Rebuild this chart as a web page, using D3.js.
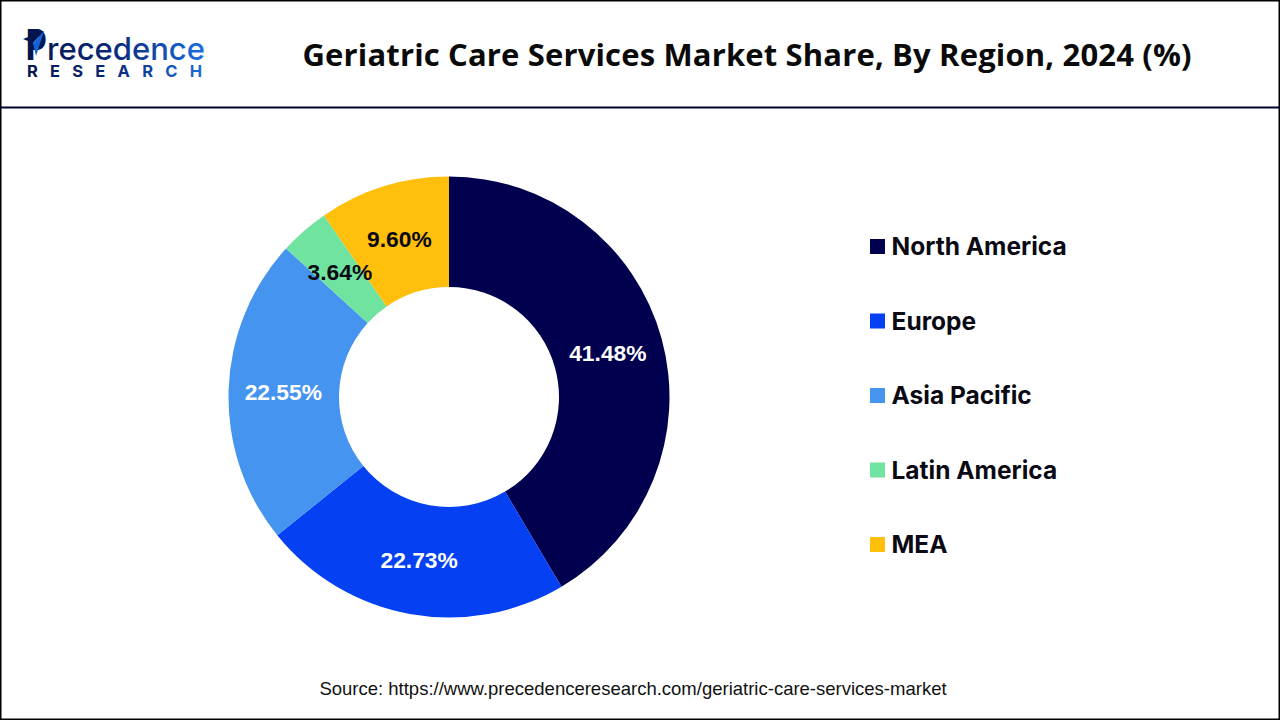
<!DOCTYPE html>
<html>
<head>
<meta charset="utf-8">
<script src="https://cdn.jsdelivr.net/npm/d3@7"></script>
<style>
  html, body { margin: 0; padding: 0; background: #fff; }
</style>
</head>
<body>
<div id="chart"></div>
<script>
const regions = ["North America", "Europe", "Asia Pacific", "Latin America", "MEA"];
const shares = [41.48, 22.73, 22.55, 3.64, 9.60];
const colors = ["#00004f", "#0540f2", "#4594f0", "#6fe39f", "#ffbf0b"];
const labelColors = ["#fff", "#fff", "#fff", "#0a0a14", "#0a0a14"];

const width = 1280, height = 720;
const svg = d3.select("#chart").append("svg")
    .attr("width", width)
    .attr("height", height)
    .style("display", "block");

// frame and header rule
svg.append("rect")
    .attr("x", 0.5).attr("y", 0.5)
    .attr("width", width - 1).attr("height", height - 1)
    .attr("fill", "#fff")
    .attr("stroke", "#000")
    .attr("stroke-width", 2);
svg.append("line")
    .attr("x1", 0).attr("x2", width)
    .attr("y1", 107.5).attr("y2", 107.5)
    .attr("stroke", "#00002e")
    .attr("stroke-width", 2);

// logo
const grad = svg.append("defs").append("linearGradient")
    .attr("id", "logoGrad")
    .attr("gradientUnits", "userSpaceOnUse")
    .attr("x1", 25).attr("x2", 205).attr("y1", 0).attr("y2", 0);
grad.append("stop").attr("offset", "0%").attr("stop-color", "#03154f");
grad.append("stop").attr("offset", "50%").attr("stop-color", "#0a2a7a");
grad.append("stop").attr("offset", "100%").attr("stop-color", "#1a6fe0");

// the big P is squeezed so it stops where "recedence" starts
svg.append("text")
    .attr("transform", "translate(26,60) scale(0.75,1)")
    .attr("font-family", "Inter")
    .attr("font-size", 42)
    .attr("font-weight", 800)
    .attr("fill", "#03154f")
    .text("P");
svg.append("text")
    .attr("x", 47).attr("y", 59.5)
    .attr("font-family", "Inter")
    .attr("font-size", 31)
    .attr("font-weight", 500)
    .attr("textLength", 158)
    .attr("lengthAdjust", "spacingAndGlyphs")
    .attr("fill", "url(#logoGrad)")
    .text("recedence");
// wing on the P
svg.append("path")
    .attr("d", "M23,39 L44,31 L33,43 Z")
    .attr("fill", "#03154f");
svg.append("path")
    .attr("d", "M44,31 L36,56 L33,43 Z")
    .attr("fill", "#1463d8");
svg.append("text")
    .attr("x", 27).attr("y", 77)
    .attr("font-family", "Inter")
    .attr("font-weight", 700)
    .attr("font-size", 16.5)
    .attr("textLength", 175)
    .attr("fill", "url(#logoGrad)")
    .text("RESEARCH");

// title
svg.append("text")
    .attr("x", 747).attr("y", 66)
    .attr("text-anchor", "middle")
    .attr("font-family", "Open Sans")
    .attr("font-weight", 700)
    .attr("font-size", 31)
    .attr("textLength", 889)
    .attr("fill", "#0a0a0a")
    .text("Geriatric Care Services Market Share, By Region, 2024 (%)");

// donut
const cx = 449, cy = 397;
const pie = d3.pie().sort(null).value(d => d);
const arc = d3.arc().innerRadius(110).outerRadius(220.5);
const arcs = pie(shares);
const donut = svg.append("g").attr("transform", `translate(${cx},${cy})`);

donut.selectAll("path")
    .data(arcs)
    .enter().append("path")
    .attr("d", arc)
    .attr("fill", (d, i) => colors[i]);

donut.selectAll("text")
    .data(arcs)
    .enter().append("text")
    .attr("x", d => arc.centroid(d)[0] - 0.5)
    .attr("y", d => arc.centroid(d)[1])
    .attr("dy", "0.35em")
    .attr("text-anchor", "middle")
    .attr("font-family", "Liberation Sans")
    .attr("font-weight", 700)
    .attr("font-size", 22.8)
    .attr("fill", (d, i) => labelColors[i])
    .text(d => d.data.toFixed(2) + "%");

// legend
const legendY = d3.scalePoint().domain(regions).range([246.5, 544.5]);
const legend = svg.append("g").selectAll("g")
    .data(regions)
    .enter().append("g")
    .attr("transform", d => `translate(870,${legendY(d)})`);
legend.append("rect")
    .attr("x", 0).attr("y", -7.5)
    .attr("width", 15).attr("height", 15)
    .attr("fill", (d, i) => colors[i]);
legend.append("text")
    .attr("x", 21.5).attr("y", 0)
    .attr("dy", "0.35em")
    .attr("font-family", "Inter")
    .attr("font-weight", 700)
    .attr("font-size", 24.5)
    .attr("fill", "#0a0a14")
    .text(d => d);

// source
svg.append("text")
    .attr("x", 633).attr("y", 695)
    .attr("text-anchor", "middle")
    .attr("font-family", "Liberation Sans")
    .attr("font-size", 18.5)
    .attr("fill", "#111")
    .text("Source: https://www.precedenceresearch.com/geriatric-care-services-market");
</script>
</body>
</html>
